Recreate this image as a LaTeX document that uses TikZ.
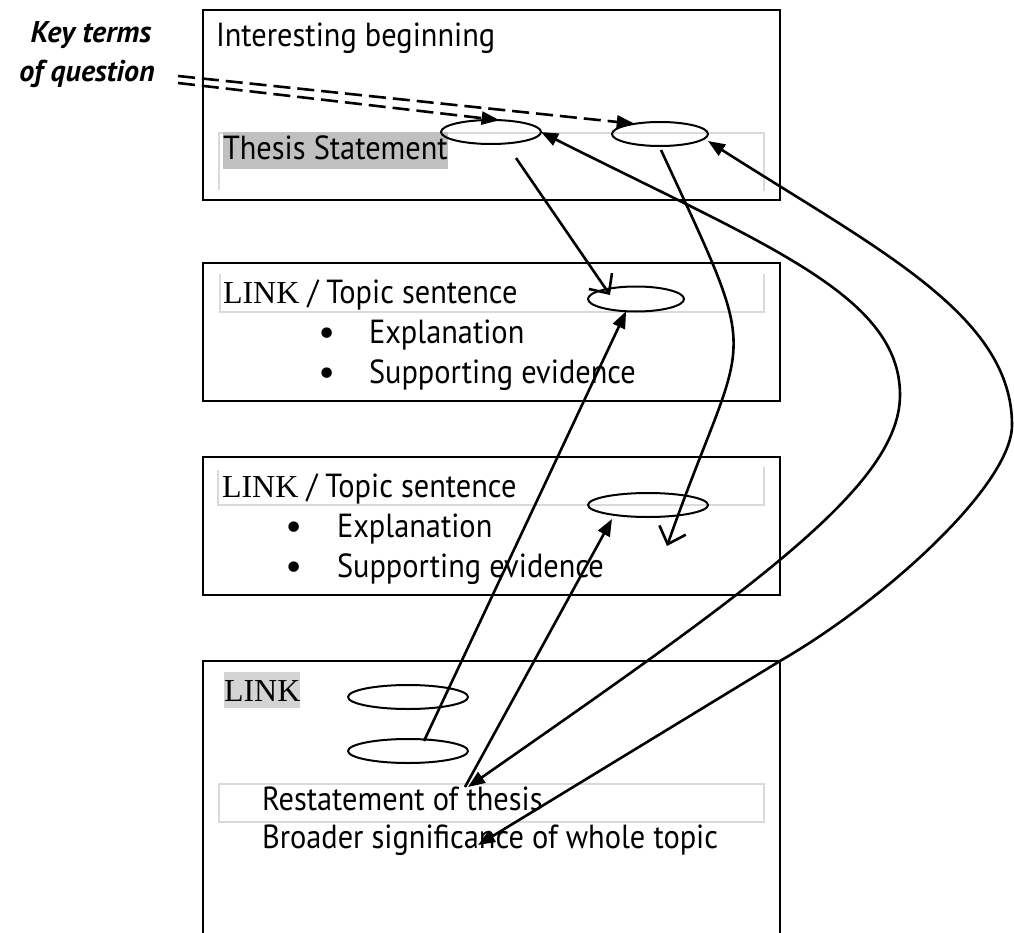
\documentclass[tikz,border=0pt]{standalone}
\usepackage{fontspec}
\setmainfont{PT Sans}[FakeStretch=0.91]
\newfontfamily\serifface{Liberation Serif}
\newfontfamily\keyface{PT Sans}
\newfontfamily\dotface{DejaVu Sans}
\usetikzlibrary{arrows.meta,shapes.geometric}
\definecolor{hlgrey}{HTML}{C0C0C0}
\definecolor{hlgreylight}{HTML}{D4D4D4}
\definecolor{framegrey}{HTML}{DADADA}
\newcommand\serifword[1]{{\serifface\fontsize{32}{36}\selectfont #1}}
\tikzset{
  panelbox/.style={draw=black, line width=2.4pt, anchor=north west, inner sep=0pt, outer sep=0pt},
  guideline/.style={draw=framegrey, line width=1.3pt},
  termoval/.style={ellipse, draw=black, line width=2pt, inner sep=0pt, outer sep=0pt},
  bodytext/.style={font=\fontsize{33.4}{36}\selectfont, anchor=base west, inner sep=0pt, outer sep=0pt},
  keytext/.style={font=\keyface\bfseries\itshape\fontsize{30}{36}\selectfont, anchor=base, inner sep=0pt},
  bulletmark/.style={font=\dotface\fontsize{36}{36}\selectfont, anchor=center, inner sep=0pt},
  solidarrow/.style={line width=2.6pt, -{Triangle[length=17pt,width=13pt]}},
  bothsolid/.style={line width=2.6pt, {Triangle[length=17pt,width=13pt]}-{Triangle[length=17pt,width=13pt]}},
  openarrow/.style={line width=2.6pt, -{Straight Barb[length=15pt,width=28pt]}},
  dasharrow/.style={line width=2.6pt, dash pattern=on 17pt off 7pt, -{Triangle[length=18pt,width=13pt]}},
}
\begin{document}
\begin{tikzpicture}[x=1pt, y=-1pt]
\useasboundingbox (0,0) rectangle (1014,933);

% essay paragraphs
\node[panelbox, minimum width=577pt, minimum height=190pt] (intro) at (203,10) {};
\node[panelbox, minimum width=577pt, minimum height=138pt] (body1) at (203,263) {};
\node[panelbox, minimum width=577pt, minimum height=138pt] (body2) at (203,457) {};
\node[panelbox, minimum width=577pt, minimum height=320pt] (concl) at (203,661) {};

% light text-frame outlines
\draw[guideline] (219,190) |- (764,133) -- (764,191);
\draw[guideline] (220,274) |- (764,312) -- (764,274);
\draw[guideline] (218,470) |- (764,505) -- (764,467);
\draw[guideline] (219,784) rectangle (764,822);

% label on the left
\node[keytext] (kt1) at (91,43) {Key terms};
\node[keytext] (kt2) at (87,82) {of question};

% introduction
\node[bodytext] (t1) at (216,47) {Interesting beginning};
\node[bodytext, fill=hlgrey, text height=28pt, text depth=9pt] (t2) at (223,160) {Thesis Statement};

% first body paragraph
\node[bodytext] (h2) at (223,303) {\serifword{LINK} / Topic sentence};
\node[bulletmark] (d2a) at (327,337) {•};
\node[bodytext] (p2a) at (369,343) {Explanation};
\node[bulletmark] (d2b) at (327,377) {•};
\node[bodytext] (p2b) at (369,383) {Supporting evidence};

% second body paragraph
\node[bodytext] (h3) at (222,497) {\serifword{LINK} / Topic sentence};
\node[bulletmark] (d3a) at (294,531) {•};
\node[bodytext] (p3a) at (337,537) {Explanation};
\node[bulletmark] (d3b) at (294,571) {•};
\node[bodytext] (p3b) at (337,577) {Supporting evidence};

% conclusion
\node[bodytext, fill=hlgreylight, text height=29pt, text depth=7pt] (h4) at (224,701) {\serifword{LINK}};
\node[bodytext] (r1) at (262,810) {Restatement of thesis};
\node[bodytext] (r2) at (262,848) {Broader significance of whole topic};

% key-term ovals
\node[termoval, minimum width=100pt, minimum height=24pt] (E1) at (491,132) {};
\node[termoval, minimum width=96pt, minimum height=24pt] (E2) at (660,134) {};
\node[termoval, minimum width=96pt, minimum height=25pt] (E3) at (636,299) {};
\node[termoval, minimum width=120pt, minimum height=24pt] (E4) at (648,505) {};
\node[termoval, minimum width=120pt, minimum height=24pt] (E5) at (408,697) {};
\node[termoval, minimum width=120pt, minimum height=24pt] (E6) at (408,751) {};

% free ends of connectors
\coordinate (k1) at (178,76);
\coordinate (k2) at (178,83);
\coordinate (a1s) at (516,158);
\coordinate (a1e) at (610,295);
\coordinate (a2s) at (661,150);
\coordinate (a2e) at (667,546);
\coordinate (a3s) at (424,741);
\coordinate (a6s) at (465,787);
\coordinate (a6e) at (612,519);
\coordinate (v5) at (900,395);
\coordinate (a5e) at (468,787);
\coordinate (v4) at (1012,425);
\coordinate (c4) at (780,661);
\coordinate (a4e) at (478,845);

% dashed pointers from the key terms
\draw[dasharrow] (k1) -- (E2.158);
\draw[dasharrow] (k2) -- (E1.54);

% links between paragraphs
\draw[openarrow] (a1s) -- (a1e);
\draw[openarrow] (a2s) .. controls (766,377) and (747,319) .. (a2e);
\draw[solidarrow] (a3s) -- (E3.-129);
\draw[solidarrow] (a6s) -- (a6e);
\draw[bothsolid] (E1.east) .. controls (765,245) and (900,295) .. (v5)
  .. controls (900,485) and (755,587) .. (a5e);
\draw[bothsolid] ([yshift=-7pt]E2.east) .. controls (877,249) and (1012,315) .. (v4)
  .. controls (1012,485) and (884,601) .. (c4) -- (a4e);
\end{tikzpicture}
\end{document}
